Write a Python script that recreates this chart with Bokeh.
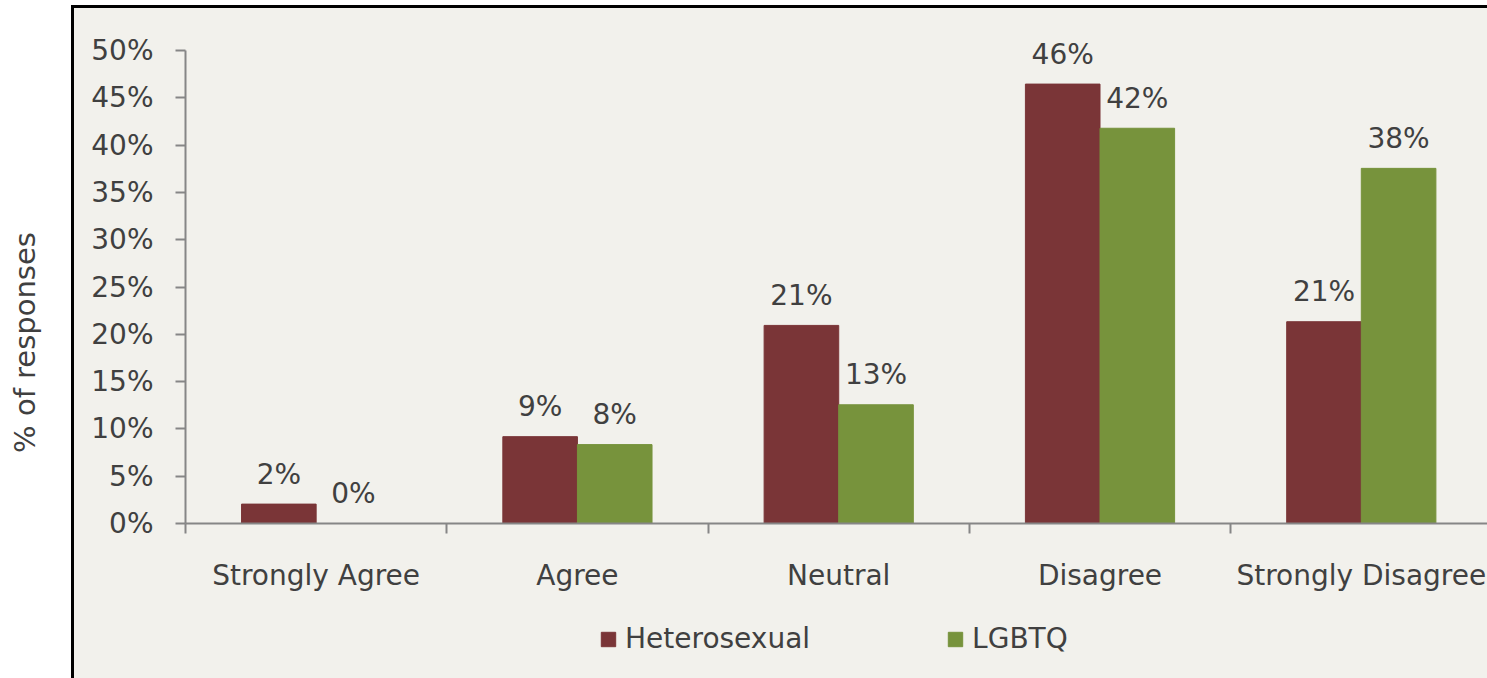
import math
from bokeh.plotting import figure
from bokeh.models import (Range1d, FixedTicker, PrintfTickFormatter, Legend,
                          LegendItem, ColumnDataSource, Label)
from bokeh.layouts import row, column
from bokeh.embed import file_html
from bokeh.resources import INLINE
from bokeh.core.properties import value

# ---------------- data ----------------
categories = ["Strongly Agree", "Agree", "Neutral", "Disagree", "Strongly Disagree"]
heterosexual = [2.05, 9.18, 20.94, 46.45, 21.33]
lgbtq = [0.0, 8.34, 12.55, 41.78, 37.54]
series_names = ["Heterosexual", "LGBTQ"]
y_ticks = [0, 5, 10, 15, 20, 25, 30, 35, 40, 45, 50]
y_axis_title = "% of responses"

# ---------------- style ----------------
BG = "#F2F1EC"
TEXT = "#404040"
AXIS = "#868686"
HET_COLOR = "#7A3537"
LGB_COLOR = "#77933C"
FONT = "DejaVu Sans"
FS = "28px"
BAR_W = 0.2855
Y_MAX = 50
Y_VIEW_TOP = 54.44   # headroom above the 50% tick so the labels are not clipped

centers = [i + 0.5 for i in range(len(categories))]
het_x = [c - BAR_W / 2 for c in centers]
lgb_x = [c + BAR_W / 2 for c in centers]
het_lbl = [f"{math.floor(v + 0.5)}%" for v in heterosexual]
lgb_lbl = [f"{math.floor(v + 0.5)}%" for v in lgbtq]

src_h = ColumnDataSource(dict(x=het_x, top=heterosexual, label=het_lbl))
src_l = ColumnDataSource(dict(x=lgb_x, top=lgbtq, label=lgb_lbl))

# ---------------- main figure ----------------
p = figure(width=1413, height=602, x_range=Range1d(0, 4.983), y_range=Range1d(0, Y_VIEW_TOP),
           output_backend="svg", toolbar_location=None,
           min_border_left=111, min_border_right=0, min_border_top=0, min_border_bottom=87,
           background_fill_color=BG, border_fill_color=BG, outline_line_color=None)
p.frame_align = False
p.styles = {"background-color": BG}
p.xgrid.visible = False
p.ygrid.visible = False

rh = p.vbar(x="x", top="top", bottom=0, width=BAR_W, source=src_h,
            fill_color=HET_COLOR, line_color=HET_COLOR)
rl = p.vbar(x="x", top="top", bottom=0, width=BAR_W, source=src_l,
            fill_color=LGB_COLOR, line_color=LGB_COLOR)

for src in (src_h, src_l):
    p.text(x="x", y="top", text="label", source=src, text_align="center",
           text_baseline="alphabetic", y_offset=-30, text_color=TEXT,
           text_font=value(FONT), text_font_size=FS)

# x axis
xa = p.xaxis[0]
xa.ticker = FixedTicker(ticks=centers, minor_ticks=list(range(len(categories))))
xa.major_label_overrides = {c: cat for c, cat in zip(centers, categories)}
xa.major_tick_out = 0
xa.major_tick_in = 0
xa.minor_tick_out = 10
xa.minor_tick_in = 0
xa.minor_tick_line_color = AXIS
xa.minor_tick_line_width = 2
xa.axis_line_color = AXIS
xa.axis_line_width = 2
xa.major_label_text_font = FONT
xa.major_label_text_font_size = FS
xa.major_label_text_color = TEXT
xa.major_label_standoff = 25

# y axis
ya = p.yaxis[0]
ya.ticker = FixedTicker(ticks=y_ticks)
ya.bounds = (0, Y_MAX)
ya.formatter = PrintfTickFormatter(format="%d%%")
ya.major_tick_out = 10
ya.major_tick_in = 0
ya.minor_tick_out = 0
ya.minor_tick_in = 0
ya.major_tick_line_color = AXIS
ya.major_tick_line_width = 2
ya.axis_line_color = AXIS
ya.axis_line_width = 2
ya.major_label_text_font = FONT
ya.major_label_text_font_size = FS
ya.major_label_text_color = TEXT
ya.major_label_standoff = 22

# ---------------- legend strip below the chart ----------------
# same series drawn outside this strip's visible range; only their legend keys show
lg = figure(width=1413, height=68, x_range=Range1d(-2, -1), y_range=Range1d(0, 1),
            output_backend="svg", toolbar_location=None, min_border=0,
            x_axis_location=None, y_axis_location=None,
            background_fill_color=BG, border_fill_color=BG, outline_line_color=None)
lg.frame_align = False
lg.styles = {"background-color": BG}
lg.xgrid.visible = False
lg.ygrid.visible = False
kh = lg.vbar(x="x", top="top", width=BAR_W, source=src_h, fill_color=HET_COLOR, line_color=HET_COLOR)
kl = lg.vbar(x="x", top="top", width=BAR_W, source=src_l, fill_color=LGB_COLOR, line_color=LGB_COLOR)
legend = Legend(items=[LegendItem(label=series_names[0], renderers=[kh]),
                       LegendItem(label=series_names[1], renderers=[kl])],
                orientation="horizontal", location=(525, 23),
                padding=0, margin=0, spacing=136, label_standoff=8,
                glyph_width=18, glyph_height=18,
                border_line_color=None, background_fill_alpha=0,
                label_text_font=FONT, label_text_font_size=FS, label_text_color=TEXT)
lg.add_layout(legend, "center")

# ---------------- left strip with axis title ----------------
left = figure(width=71, height=678, x_range=Range1d(0, 71), y_range=Range1d(0, 678),
              output_backend="svg", toolbar_location=None, min_border=0,
              x_axis_location=None, y_axis_location=None,
              background_fill_color="white", border_fill_color="white", outline_line_color=None)
left.frame_align = False
left.xgrid.visible = False
left.ygrid.visible = False
left.add_layout(Label(x=24, y=336, text=y_axis_title, angle=math.pi / 2,
                      text_align="center", text_baseline="middle",
                      text_font=FONT, text_font_size="29px", text_color=TEXT))

# ---------------- frame border strips ----------------
def strip(w, h, color):
    f = figure(width=w, height=h, output_backend="svg", toolbar_location=None, min_border=0,
               x_axis_location=None, y_axis_location=None,
               background_fill_color=color, border_fill_color=color, outline_line_color=None)
    f.frame_align = False
    f.styles = {"background-color": color}
    f.xgrid.visible = False
    f.ygrid.visible = False
    return f

chart = column(p, lg)
chart.styles = {"background-color": BG}
right = column(strip(1416, 5, "white"), strip(1416, 3, "black"),
               row(strip(3, 670, "black"), chart))
layout = row(left, right)

open("out.html", "w").write(file_html(layout, INLINE))
